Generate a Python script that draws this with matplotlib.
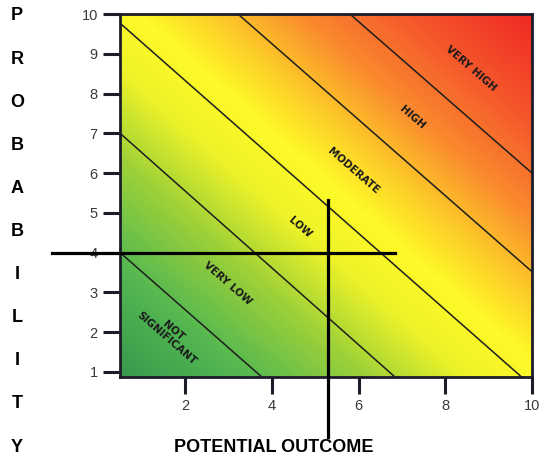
import numpy as np
import matplotlib
matplotlib.use("Agg")
import matplotlib.pyplot as plt
from matplotlib.colors import LinearSegmentedColormap

# =====================================================
# DATA
# =====================================================
x_ticks = [2, 4, 6, 8, 10]
y_ticks = [1, 2, 3, 4, 5, 6, 7, 8, 9, 10]

# band boundary lines: (x0, y0, x1, y1)
band_lines = [
    (0.5, 4.0, 3.77, 0.87),
    (0.5, 7.0, 6.84, 0.87),
    (0.5, 9.77, 9.76, 0.87),
    (3.22, 10.0, 10.0, 3.52),
    (5.80, 10.0, 10.0, 6.0),
]

band_labels = ["NOT\nSIGNIFICANT", "VERY LOW", "LOW", "MODERATE", "HIGH", "VERY HIGH"]
label_x = [1.65, 2.99, 4.65, 5.87, 7.25, 8.59]
label_y = [1.93, 3.22, 4.62, 6.06, 7.39, 8.64]

# crosshair
cross_x = 5.29
cross_y = 4.0

y_title = "PROBABILITY"
x_title = "POTENTIAL OUTCOME"

XMIN, XMAX = 0.5, 10.0
YMIN, YMAX = 0.87, 10.0

# =====================================================
# FIGURE
# =====================================================
W, H = 543, 461
fig = plt.figure(figsize=(W / 100, H / 100), dpi=100)
ax = fig.add_axes([120 / W, 1 - 377 / H, 412 / W, 363 / H])

# gradient background (green -> yellow -> red along the diagonal)
cmap = LinearSegmentedColormap.from_list(
    "risk",
    [
        (0.00, (0.22, 0.60, 0.30)),
        (0.15, (0.33, 0.72, 0.32)),
        (0.30, (0.62, 0.82, 0.22)),
        (0.42, (0.93, 0.95, 0.16)),
        (0.52, (1.00, 0.98, 0.16)),
        (0.62, (0.99, 0.78, 0.16)),
        (0.72, (0.98, 0.54, 0.18)),
        (0.85, (0.96, 0.34, 0.17)),
        (1.00, (0.94, 0.16, 0.14)),
    ],
)
u = np.linspace(0, 1, 400)
v = np.linspace(0, 1, 400)
U, V = np.meshgrid(u, v)
T = (U + V) / 2
ax.imshow(T, cmap=cmap, origin="lower", extent=[XMIN, XMAX, YMIN, YMAX],
          aspect="auto", interpolation="bilinear", zorder=0)

for x0, y0, x1, y1 in band_lines:
    ax.plot([x0, x1], [y0, y1], color="#1e1e1e", lw=1.1, zorder=2)

for txt, lx, ly in zip(band_labels, label_x, label_y):
    ax.text(lx, ly, txt, rotation=-41, ha="center", va="center",
            fontsize=7.5, fontweight="bold", color="#1a1a1a",
            family="DejaVu Sans", linespacing=0.95,
            rotation_mode="anchor", multialignment="center", zorder=3)

# crosshair
ax.plot([-1.07, 6.84], [cross_y, cross_y], color="black", lw=2.3,
        clip_on=False, zorder=4)
ax.plot([cross_x, cross_x], [-0.65, 5.33], color="black", lw=2.3,
        clip_on=False, zorder=4)

ax.set_xlim(XMIN, XMAX)
ax.set_ylim(YMIN, YMAX)
ax.set_xticks(x_ticks)
ax.set_yticks(y_ticks)
ax.tick_params(direction="out", length=12, width=2.2, color="#1c1c2a",
               labelsize=10.5, labelcolor="#3a3a3a", pad=4)
for lab in ax.get_xticklabels() + ax.get_yticklabels():
    lab.set_family(["Liberation Sans", "DejaVu Sans"])
for sp in ax.spines.values():
    sp.set_linewidth(2)
    sp.set_color("#1c1c2a")

# axis titles
title_font = ["Liberation Sans", "DejaVu Sans"]
for i, ch in enumerate(y_title):
    py = 16 + i * 43.1
    fig.text(17 / W, 1 - py / H, ch, ha="center", va="center",
             fontsize=13, fontweight="bold", family=title_font)
fig.text(274 / W, 1 - 447 / H, x_title, ha="center", va="center",
         fontsize=13, fontweight="bold", family=title_font)

fig.savefig("out.png", dpi=100)
